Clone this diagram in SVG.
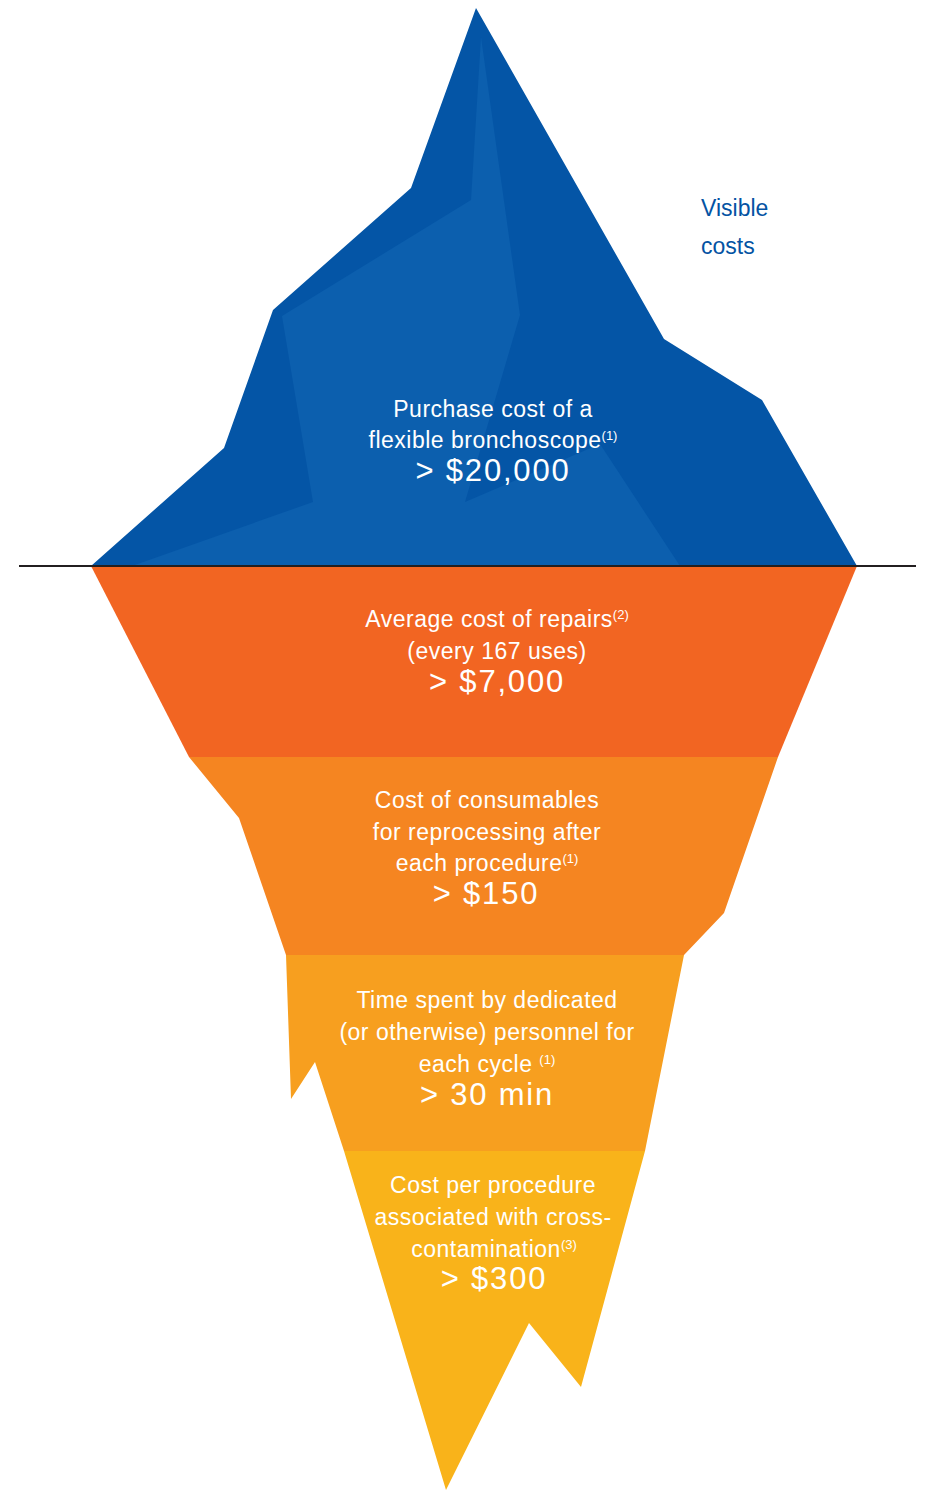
<svg xmlns="http://www.w3.org/2000/svg" width="926" height="1490" viewBox="0 0 926 1490">
<style>
.t{font-family:"Liberation Sans",Arial,Helvetica,sans-serif;fill:#ffffff;font-size:23px;letter-spacing:0.5px;text-anchor:middle}
.v{font-size:31px;letter-spacing:1.8px}
.sup{font-size:13px;letter-spacing:0}
.lbl{font-family:"Liberation Sans",Arial,Helvetica,sans-serif;fill:#0453a3;font-size:23px}
</style>
<rect width="926" height="1490" fill="#ffffff"/>
<g id="tip">
<polygon fill="#0455a6" points="476,8 664,339 762,400 857,566 91,566 224,448 273,310 411,188"/>
<polygon fill="#0c5fae" points="481,37 520,315 465,502 600,444 680,566 132,566 313,502 282,316 471,200"/>
<text class="t" x="493" y="417">Purchase cost of a</text>
<text class="t" x="493" y="448">flexible bronchoscope<tspan class="sup" dy="-8">(1)</tspan></text>
<text class="t v" x="493" y="481">&gt; $20,000</text>
</g>
<g id="repairs">
<polygon fill="#f26522" points="91,566 857,566 778,757 189,757"/>
<text class="t" x="497" y="627">Average cost of repairs<tspan class="sup" dy="-8">(2)</tspan></text>
<text class="t" x="497" y="659">(every 167 uses)</text>
<text class="t v" x="497" y="692">&gt; $7,000</text>
</g>
<g id="consumables">
<polygon fill="#f58521" points="189,757 778,757 724,913 684,955 286,955 239,818"/>
<text class="t" x="487" y="808">Cost of consumables</text>
<text class="t" x="487" y="840">for reprocessing after</text>
<text class="t" x="487" y="871">each procedure<tspan class="sup" dy="-8">(1)</tspan></text>
<text class="t v" x="486" y="904">&gt; $150</text>
</g>
<g id="time">
<polygon fill="#f79f1f" points="286,955 684,955 645,1151 344,1151 315,1062 291,1099"/>
<text class="t" x="487" y="1008">Time spent by dedicated</text>
<text class="t" x="487" y="1040">(or otherwise) personnel for</text>
<text class="t" x="487" y="1072">each cycle <tspan class="sup" dy="-8">(1)</tspan></text>
<text class="t v" x="487" y="1105">&gt; 30 min</text>
</g>
<g id="contamination">
<polygon fill="#f9b31a" points="344,1151 645,1151 581,1387 529,1323 446,1490"/>
<text class="t" x="493" y="1193">Cost per procedure</text>
<text class="t" x="493" y="1225">associated with cross-</text>
<text class="t" x="494" y="1257">contamination<tspan class="sup" dy="-8">(3)</tspan></text>
<text class="t v" x="494" y="1289">&gt; $300</text>
</g>
<g id="visible-label">
<text class="lbl" x="701" y="216">Visible</text>
<text class="lbl" x="701" y="254">costs</text>
</g>
<g id="connectors">
<line x1="19" y1="566" x2="916" y2="566" stroke="#231f20" stroke-width="2"/>
</g>
</svg>
